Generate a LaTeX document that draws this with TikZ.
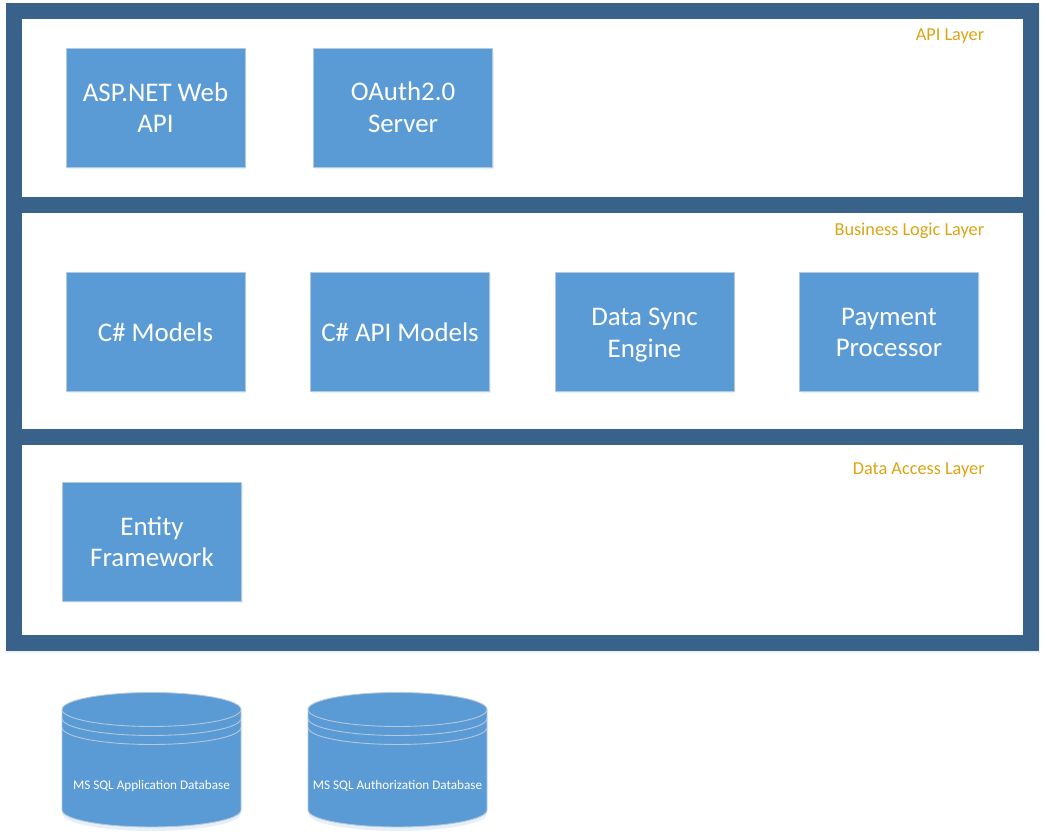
\documentclass[tikz,border=0pt]{standalone}
\usepackage{fontspec}
\setmainfont{Carlito}
\usetikzlibrary{shadows}

\definecolor{framecolor}{HTML}{38628A}
\definecolor{boxcolor}{HTML}{5B9BD5}
\definecolor{boxedge}{HTML}{B4C8DC}
\definecolor{layertext}{HTML}{DDA515}

\tikzset{
    layerframe/.style={draw=none, fill=framecolor, minimum width=20.66cm, minimum height=12.96cm, inner sep=0pt,
        drop shadow={shadow xshift=0.01cm, shadow yshift=-0.05cm, fill=boxcolor, opacity=0.12}},
    layerpanel/.style={draw=none, fill=white, minimum width=20.02cm, inner sep=0pt},
    layerlabel/.style={anchor=east, text=layertext, font=\fontsize{10.4}{12}\selectfont, inner sep=0pt},
    compbox/.style={draw=boxedge, line width=0.5pt, fill=boxcolor, text=white, align=center, minimum width=3.58cm, minimum height=2.38cm,
        inner sep=0pt, font=\fontsize{15.3}{17.9}\selectfont,
        drop shadow={shadow xshift=0.02cm, shadow yshift=-0.04cm, fill=boxcolor, opacity=0.15}},
    dbbody/.style={draw=boxedge, line width=0.5pt, fill=boxcolor},
    dbring/.style={draw=boxedge, line width=0.5pt},
    dblabel/.style={text=white, font=\fontsize{7.5}{9}\selectfont, inner sep=0pt}
}

\begin{document}
\begin{tikzpicture}
    \useasboundingbox (0,0) rectangle (20.92,16.72);

    \node[layerframe] (frame) at (10.45,10.18) {};
    \node[layerpanel, minimum height=3.56cm] (apilayer) at (10.45,14.56) {};
    \node[layerpanel, minimum height=4.32cm] (bizlayer) at (10.45,10.30) {};
    \node[layerpanel, minimum height=3.80cm] (datalayer) at (10.45,5.92) {};

    \node[layerlabel] (apilabel) at (19.69,15.99) {API Layer};
    \node[layerlabel] (bizlabel) at (19.69,12.11) {Business Logic Layer};
    \node[layerlabel] (datalabel) at (19.70,7.31) {Data Access Layer};

    \node[compbox] (webapi) at (3.11,14.57) {ASP.NET Web\\API};
    \node[compbox] (oauth) at (8.06,14.57) {OAuth2.0\\Server};

    \node[compbox] (models) at (3.11,10.08) {C\# Models};
    \node[compbox] (apimodels) at (8.00,10.08) {C\# API Models};
    \node[compbox] (datasync) at (12.89,10.08) {\vphantom{b}Data Sync\\\smash{Engine}};
    \node[compbox] (payment) at (17.78,10.08) {\vphantom{b}Payment\\Processor};

    \node[compbox] (entity) at (3.04,5.88) {Entity\\Framework};

    % databases
    \foreach \dbx/\dbname/\dbtext in {3.03/appdb/MS SQL Application Database, 7.95/authdb/MS SQL Authorization Database} {
        \begin{scope}[shift={(\dbx,0)}]
            \fill[boxcolor, opacity=0.15] (-1.78,0.60) -- (-1.78,0.44) arc[start angle=180, end angle=360, x radius=1.78cm, y radius=0.34cm] -- (1.78,0.60) -- cycle;
            \draw[dbbody] (-1.79,2.53) arc[start angle=180, end angle=0, x radius=1.79cm, y radius=0.34cm]
                -- (1.79,0.52) arc[start angle=360, end angle=180, x radius=1.79cm, y radius=0.34cm] -- cycle;
            \foreach \ringy in {2.53,2.35,2.17} {
                \draw[dbring] (-1.79,\ringy) arc[start angle=180, end angle=360, x radius=1.79cm, y radius=0.34cm];
            }
            \node[dblabel] (\dbname) at (0,1.00) {\dbtext};
        \end{scope}
    }
\end{tikzpicture}
\end{document}
